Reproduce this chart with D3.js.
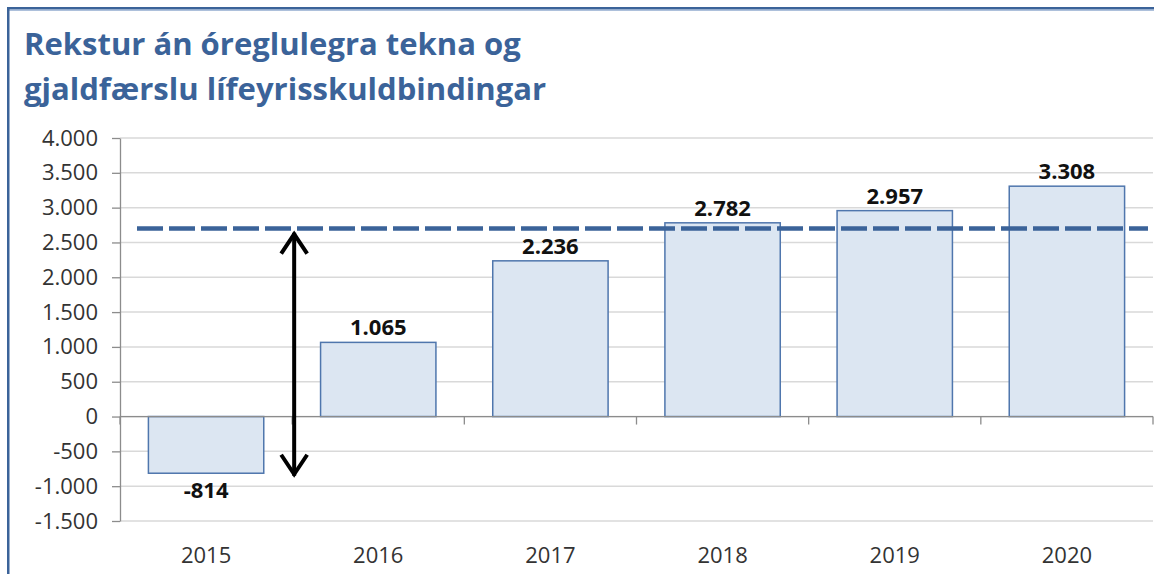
<!DOCTYPE html>
<html>
<head>
<meta charset="utf-8">
<script src="https://cdn.jsdelivr.net/npm/d3@7"></script>
<style>
  body { margin: 0; background: #fff; }
  svg { display: block; }
</style>
</head>
<body>
<div class="visHolder"></div>
<script>
// ========================================
// Data
// ========================================
const titleLines = ['Rekstur án óreglulegra tekna og', 'gjaldfærslu lífeyrisskuldbindingar'];
const categories = ['2015', '2016', '2017', '2018', '2019', '2020'];
const values = [-814, 1065, 2236, 2782, 2957, 3308];
const yTicks = [-1500, -1000, -500, 0, 500, 1000, 1500, 2000, 2500, 3000, 3500, 4000];
const refLevel = 2700;            // dashed reference line
const arrowRange = [-850, 2640];  // double arrow, from / to

// ========================================
// Dimensions
// ========================================
const width = 1154,
  height = 574,
  plotLeft = 120,
  plotRight = 1153,
  plotTop = 138,
  plotBottom = 521,
  blue = '#3b6399';

// Icelandic number format: 4.000, -1.500
const is = d3.formatLocale({ decimal: ',', thousands: '.', grouping: [3], currency: ['', ' kr.'], minus: '-' });
const fmt = is.format(',d');

const svg = d3.select('.visHolder')
  .append('svg')
    .attr('width', width)
    .attr('height', height);

// frame (top and left border)
svg.append('rect').attr('x', 7).attr('y', 7).attr('width', width - 7).attr('height', 2.5).attr('fill', blue);
svg.append('rect').attr('x', 7).attr('y', 9.5).attr('width', width - 7).attr('height', 1.2).attr('fill', '#8aa6cc');
svg.append('rect').attr('x', 7).attr('y', 7).attr('width', 2.5).attr('height', height - 7).attr('fill', blue);

// title: Open Sans is wider than the original font, so squeeze it horizontally
const title = svg.append('g');
titleLines.forEach((t, i) => {
  title.append('text')
    .attr('x', 0)
    .attr('y', 55 + i * 45)
    .text(t)
    .style('font-family', '"Open Sans", sans-serif')
    .style('font-weight', 'bold')
    .style('font-size', '31px')
    .style('fill', blue);
});
const t0 = title.select('text').node().getComputedTextLength();
title.attr('transform', 'translate(24,0) scale(' + (497 / t0) + ',1)');

// scales
const x = d3.scaleBand()
  .domain(categories)
  .range([plotLeft, plotRight])
  .paddingInner(0.33)
  .paddingOuter(0.165);

const y = d3.scaleLinear()
  .domain([d3.min(yTicks), d3.max(yTicks)])
  .range([plotBottom, plotTop]);

// gridlines
svg.append('g')
  .selectAll('line')
  .data(yTicks)
  .enter()
  .append('line')
    .attr('x1', plotLeft)
    .attr('x2', plotRight)
    .attr('y1', d => y(d))
    .attr('y2', d => y(d))
    .style('stroke', '#d9d9d9')
    .style('stroke-width', 1.5);

// y axis
const yAxis = svg.append('g')
  .attr('transform', 'translate(' + plotLeft + ',0)')
  .call(d3.axisLeft(y).tickValues(yTicks).tickFormat(fmt).tickSize(8).tickSizeOuter(0).tickPadding(14));
yAxis.select('.domain').style('stroke', '#8c8c8c').style('stroke-width', 1.3);
yAxis.selectAll('.tick line').style('stroke', '#8c8c8c').style('stroke-width', 1.3);
yAxis.selectAll('.tick text')
  .style('font-family', '"Open Sans", sans-serif')
  .style('font-size', '22px')
  .style('fill', '#333');

// bars
svg.append('g')
  .selectAll('rect')
  .data(values)
  .enter()
  .append('rect')
    .attr('x', (d, i) => x(categories[i]))
    .attr('y', d => y(Math.max(0, d)))
    .attr('width', x.bandwidth())
    .attr('height', d => Math.abs(y(d) - y(0)))
    .style('fill', '#dce6f2')
    .style('stroke', '#4f76ad')
    .style('stroke-width', 1.5);

// zero axis with category separators
svg.append('line')
  .attr('x1', plotLeft).attr('x2', plotRight)
  .attr('y1', y(0)).attr('y2', y(0))
  .style('stroke', '#8c8c8c').style('stroke-width', 1.3);
svg.append('g')
  .selectAll('line')
  .data(d3.range(categories.length + 1))
  .enter()
  .append('line')
    .attr('x1', i => plotLeft + i * x.step())
    .attr('x2', i => plotLeft + i * x.step())
    .attr('y1', y(0))
    .attr('y2', y(0) + 8)
    .style('stroke', '#8c8c8c').style('stroke-width', 1.3);

// value labels
svg.append('g')
  .selectAll('text')
  .data(values)
  .enter()
  .append('text')
    .attr('x', (d, i) => x(categories[i]) + x.bandwidth() / 2)
    .attr('y', d => d >= 0 ? y(d) - 7 : y(d) + 25)
    .attr('text-anchor', 'middle')
    .text(d => fmt(d))
    .style('font-family', '"Open Sans", sans-serif')
    .style('font-weight', 'bold')
    .style('font-size', '22px')
    .style('fill', '#111');

// category labels
svg.append('g')
  .selectAll('text')
  .data(categories)
  .enter()
  .append('text')
    .attr('x', d => x(d) + x.bandwidth() / 2)
    .attr('y', plotBottom + 42)
    .attr('text-anchor', 'middle')
    .text(d => d)
    .style('font-family', '"Open Sans", sans-serif')
    .style('font-size', '22px')
    .style('fill', '#333');

// dashed reference line
svg.append('line')
  .attr('x1', plotLeft + 17)
  .attr('x2', plotRight - 5)
  .attr('y1', y(refLevel))
  .attr('y2', y(refLevel))
  .style('stroke', blue)
  .style('stroke-width', 4.5)
  .style('stroke-dasharray', '26,6');

// double arrow
const defs = svg.append('defs');
defs.append('marker')
  .attr('id', 'head')
  .attr('markerUnits', 'userSpaceOnUse')
  .attr('viewBox', '-26 -16 30 32')
  .attr('refX', 0).attr('refY', 0)
  .attr('markerWidth', 30).attr('markerHeight', 32)
  .attr('orient', 'auto-start-reverse')
  .append('path')
    .attr('d', 'M-21,-13 L-1.5,0 L-21,13')
    .style('fill', 'none')
    .style('stroke', '#000')
    .style('stroke-width', 4);

const arrowX = plotLeft + x.step() + 2;
svg.append('line')
  .attr('x1', arrowX).attr('x2', arrowX)
  .attr('y1', y(arrowRange[1])).attr('y2', y(arrowRange[0]))
  .attr('marker-start', 'url(#head)')
  .attr('marker-end', 'url(#head)')
  .style('stroke', '#000')
  .style('stroke-width', 4);
</script>
</body>
</html>
